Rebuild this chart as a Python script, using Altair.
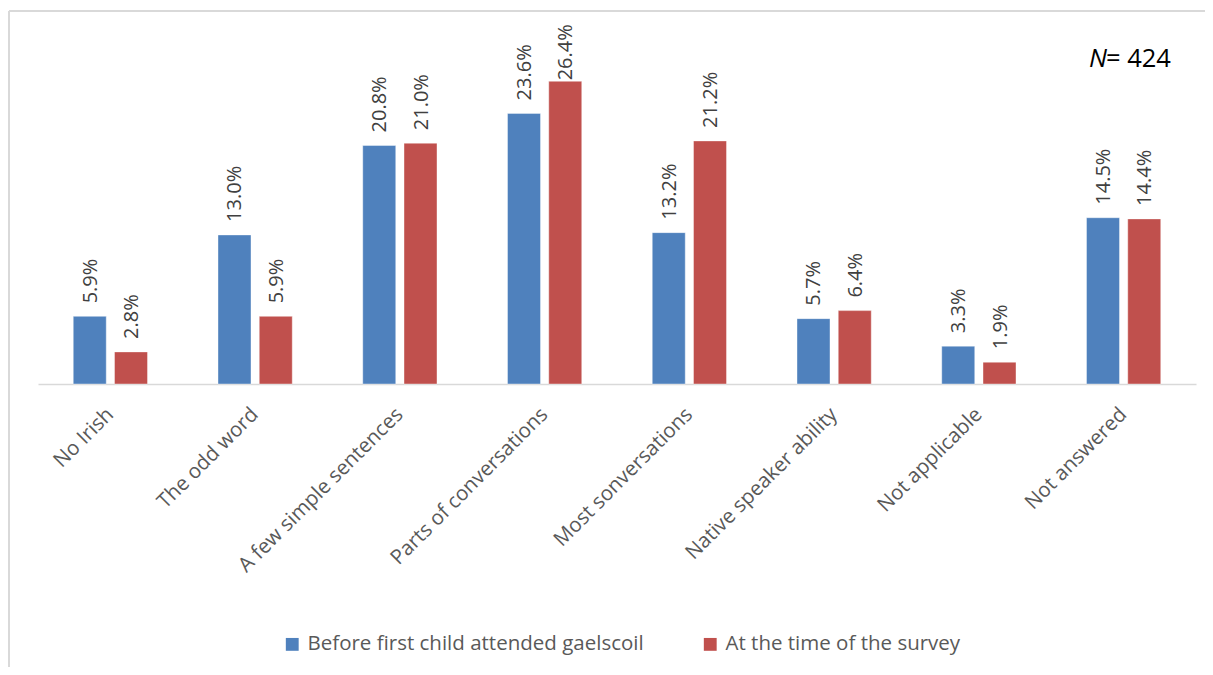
import altair as alt
import pandas as pd

categories = ["No Irish", "The odd word", "A few simple sentences", "Parts of conversations",
              "Most sonversations", "Native speaker ability", "Not applicable", "Not answered"]
series_names = ["Before first child attended gaelscoil", "At the time of the survey"]
before_vals = [5.9, 13.0, 20.8, 23.6, 13.2, 5.7, 3.3, 14.5]
survey_vals = [2.8, 5.9, 21.0, 26.4, 21.2, 6.4, 1.9, 14.4]
colors = ["#4F81BD", "#C0504D"]

rows = []
for c, b, s in zip(categories, before_vals, survey_vals):
    rows.append({"category": c, "series": series_names[0], "value": b})
    rows.append({"category": c, "series": series_names[1], "value": s})
df = pd.DataFrame(rows)

FONT = "Open Sans"
W, H = 1158, 344

x_enc = alt.X("category:N", sort=categories, title=None,
              scale=alt.Scale(paddingInner=0.43, paddingOuter=0.215),
              axis=alt.Axis(labelAngle=-45, labelAlign="right", labelBaseline="middle",
                            labelPadding=27, labelFontSize=20.5, labelColor="#595959",
                            labelFont=FONT, ticks=False, domainColor="#D9D9D9",
                            domainWidth=1.5, labelLimit=400))
xoff = alt.XOffset("series:N", sort=series_names,
                   scale=alt.Scale(paddingInner=0.2, paddingOuter=0.1))
y_enc = alt.Y("value:Q", scale=alt.Scale(domain=[0, 30]), axis=None)

base = alt.Chart(df)

bars = base.mark_bar(stroke="#ffffff", strokeOpacity=0.4, strokeWidth=1).encode(
    x=x_enc, xOffset=xoff, y=y_enc,
    color=alt.Color("series:N", sort=series_names,
                    scale=alt.Scale(domain=series_names, range=colors),
                    legend=alt.Legend(title=None, orient="none", legendX=244, legendY=594,
                                      direction="horizontal", symbolType="square",
                                      symbolSize=165, symbolStrokeWidth=0, symbolOffset=0,
                                      labelOffset=5,
                                      labelFont=FONT, labelFontSize=20.5, labelColor="#595959",
                                      columnPadding=56, labelLimit=500))
)

labels = base.transform_calculate(
    lbl="format(datum.value, '.1f') + '%'",
    lpos="min(datum.value, 25.35)"
).mark_text(angle=270, align="left", baseline="middle", dx=13, dy=1,
            font=FONT, fontSize=20, color="#404040").encode(
    x=alt.X("category:N", sort=categories), xOffset=xoff,
    y=alt.Y("lpos:Q", scale=alt.Scale(domain=[0, 30]), axis=None), text="lbl:N"
)

n_italic = alt.Chart(pd.DataFrame({"t": ["N"]})).mark_text(
    align="left", baseline="alphabetic", font=FONT, fontSize=25.5, fontStyle="italic", color="#000000"
).encode(x=alt.value(1051), y=alt.value(27), text="t:N")
n_rest = alt.Chart(pd.DataFrame({"t": ["= 424"]})).mark_text(
    align="left", baseline="alphabetic", font=FONT, fontSize=25.5, color="#000000"
).encode(x=alt.value(1068), y=alt.value(27), text="t:N")

frame_left = alt.Chart(pd.DataFrame({"a": [0]})).mark_rule(color="#D9D9D9", strokeWidth=2).encode(
    x=alt.value(-29), y=alt.value(-29), y2=alt.value(700))
frame_top = alt.Chart(pd.DataFrame({"a": [0]})).mark_rule(color="#D9D9D9", strokeWidth=2).encode(
    y=alt.value(-29), x=alt.value(-29), x2=alt.value(1250))

chart = alt.layer(frame_left, frame_top, bars, labels, n_italic, n_rest).properties(
    width=W, height=H,
    autosize=alt.AutoSizeParams(type="none"),
    padding={"left": 30, "top": 32, "right": 9, "bottom": 283},
    background="#ffffff"
).configure_view(stroke=None)

chart.save("out.html", embed_options={"renderer": "svg", "actions": False})
